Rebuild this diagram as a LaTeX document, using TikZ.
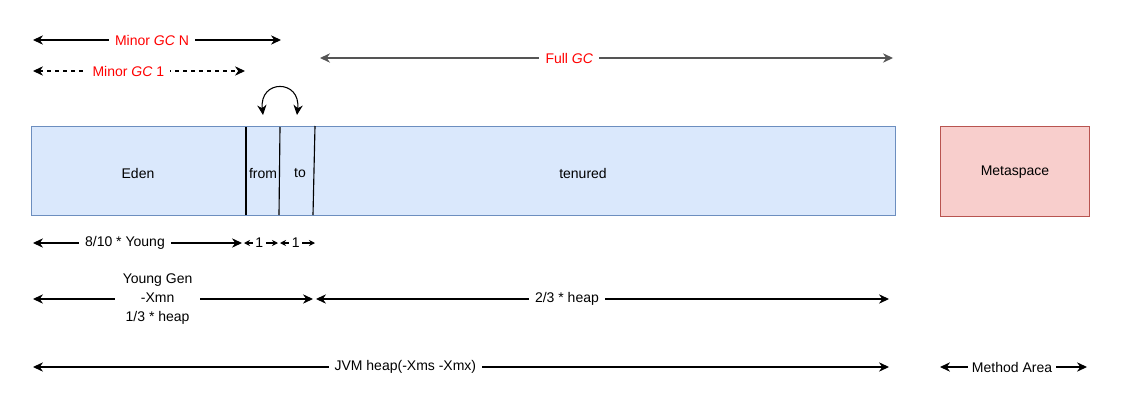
\documentclass[tikz,border=0pt]{standalone}
\usepackage{fontspec}
\setmainfont{Liberation Sans}
\usetikzlibrary{arrows.meta}
\definecolor{edenfill}{HTML}{DAE8FC}
\definecolor{edenline}{HTML}{6C8EBF}
\definecolor{metafill}{HTML}{F8CECC}
\definecolor{metaline}{HTML}{B85450}
\definecolor{gcred}{HTML}{FF0000}
\definecolor{darkline}{HTML}{555555}
\tikzset{
  dim/.style={{Stealth[length=7.5pt,width=7pt]}-{Stealth[length=7.5pt,width=7pt]}, line width=0.8pt, black},
  smalldim/.style={{Stealth[length=4.5pt,width=4.5pt]}-{Stealth[length=4.5pt,width=4.5pt]}, line width=0.8pt, black},
  lbl/.style={fill=white, inner xsep=4.5pt, inner ysep=1pt, font=\fontsize{10.5}{12}\selectfont, text=black},
  redlbl/.style={lbl, text=gcred},
  boxtxt/.style={font=\fontsize{10.5}{12}\selectfont, text=black},
  divider/.style={line width=0.85pt, black}
}
\begin{document}
\begin{tikzpicture}[x=0.75pt,y=-0.75pt]
\useasboundingbox (0,0) rectangle (1145,407);
% main heap box
\draw[fill=edenfill, draw=edenline, line width=0.75pt] (31,126) rectangle (895,215);
\node (heapbox) at (463,170.5) {};
\draw[divider] (246,127) -- (246,215);
\draw[divider] (280,127) -- (279,215);
\draw[divider] (315,126) -- (313,215);
\node[boxtxt] (eden) at (138,173) {Eden};
\node[boxtxt, inner sep=0pt] (from) at (263,173) {from};
\node[boxtxt] (to) at (300,173) {to};
\node[boxtxt] (tenured) at (583,173) {tenured};
% metaspace
\draw[fill=metafill, draw=metaline, line width=0.75pt] (940,126) rectangle (1089,216);
\node[boxtxt] (meta) at (1015,172) {Metaspace};
% swap arrow
\coordinate (sa) at (263,115);
\coordinate (sb) at (297,115);
\draw[{Stealth[length=7.5pt,width=7pt]}-{Stealth[length=7.5pt,width=7pt]}, line width=0.8pt]
  (sa) .. controls (259,79) and (301,79) .. (sb);
% Minor GC N
\coordinate (mna) at (33,40); \coordinate (mnb) at (281,40);
\draw[dim] (mna) -- (mnb) node[redlbl, pos=0.48] (mnl) {Minor \textit{GC} N};
% Minor GC 1
\coordinate (m1a) at (33,71); \coordinate (m1b) at (245,71);
\draw[dim, dashed] (m1a) -- (m1b) node[redlbl, pos=0.45] (m1l) {Minor \textit{GC} 1};
% Full GC
\coordinate (fga) at (320,58); \coordinate (fgb) at (893,58);
\draw[dim, draw=darkline, line width=1pt] (fga) -- (fgb) node[redlbl, pos=0.435] (fgl) {Full \textit{GC}};
% 8/10 Young
\coordinate (ya) at (33,243); \coordinate (yb) at (242,243);
\draw[dim] (ya) -- (yb) node[lbl, pos=0.44] (yl) {8/10 * Young};
\coordinate (fa) at (244,243); \coordinate (fb) at (278,243);
\draw[smalldim] (fa) -- (fb) node[lbl, inner xsep=2pt, pos=0.45] (fl) {1};
\coordinate (ta) at (280,243); \coordinate (tb) at (315,243);
\draw[smalldim] (ta) -- (tb) node[lbl, inner xsep=2pt, pos=0.45] (tl) {1};
% Young Gen
\coordinate (yga) at (33,299); \coordinate (ygb) at (313,299);
\draw[dim] (yga) -- (ygb) node[lbl, align=center, pos=0.445, inner xsep=6pt, font=\fontsize{10.5}{14}\selectfont] (ygl) {Young Gen\\-Xmn\\1/3 * heap};
% 2/3 heap
\coordinate (oa) at (316,299); \coordinate (ob) at (889,299);
\draw[dim] (oa) -- (ob) node[lbl, pos=0.438] (ol) {2/3 * heap};
% JVM heap
\coordinate (ja) at (33,367); \coordinate (jb) at (889,367);
\draw[dim] (ja) -- (jb) node[lbl, pos=0.435] (jl) {JVM heap(-Xms -Xmx)};
% Method area
\coordinate (maa) at (940,367); \coordinate (mab) at (1087,367);
\draw[dim] (maa) -- (mab) node[lbl, pos=0.49, inner xsep=3pt] (mal) {Method Area};
\end{tikzpicture}
\end{document}
